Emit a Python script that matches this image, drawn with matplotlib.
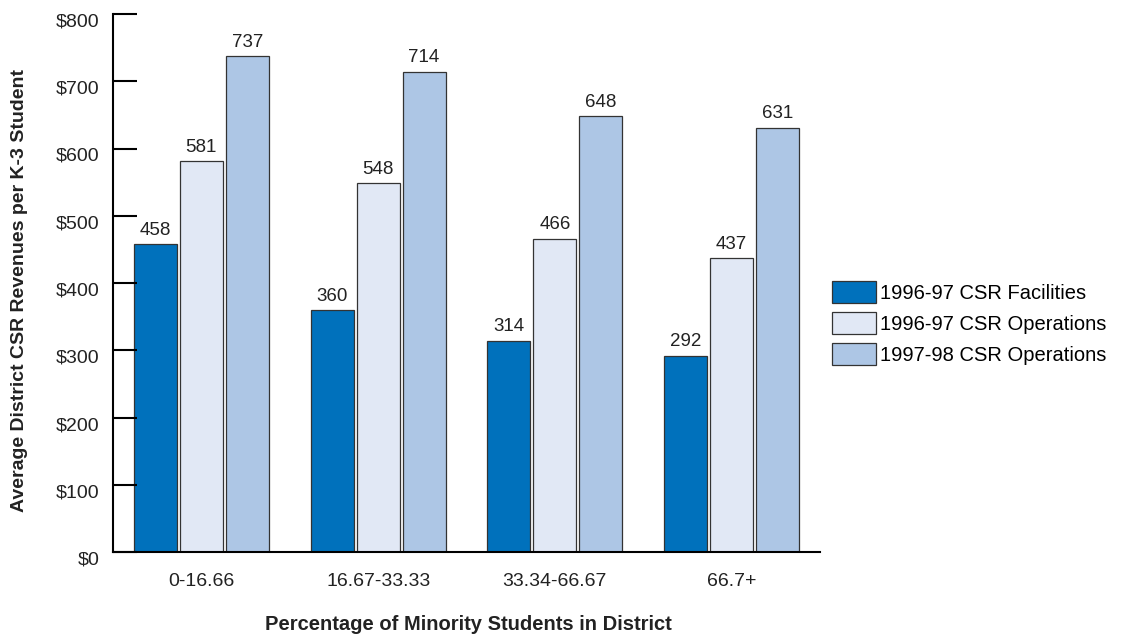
import numpy as np
import matplotlib
matplotlib.use('Agg')
import matplotlib.pyplot as plt
import matplotlib.transforms as mtransforms

plt.rcParams['font.family'] = ['Liberation Sans', 'DejaVu Sans']

groups = ['0-16.66', '16.67-33.33', '33.34-66.67', '66.7+']
series = ['1996-97 CSR Facilities', '1996-97 CSR Operations', '1997-98 CSR Operations']
facilities_9697 = [458, 360, 314, 292]
operations_9697 = [581, 548, 466, 437]
operations_9798 = [737, 714, 648, 631]
colors = ['#0071BC', '#E1E8F5', '#ADC6E5']
txt = '#222222'

fig = plt.figure(figsize=(11.26, 6.36), dpi=100)
ax = fig.add_axes([113/1126, 1 - 552/636, (820-113)/1126, (552-14)/636])

x = np.arange(len(groups))
w = 0.243
step = 0.26
for k, (vals, c, name) in enumerate(zip([facilities_9697, operations_9697, operations_9798], colors, series)):
    pos = x + (k - 1) * step
    ax.bar(pos, vals, width=w, color=c, edgecolor='#333333', linewidth=0.9, label=name)
    for p, v in zip(pos, vals):
        ax.text(p, v + 8, str(v), ha='center', va='bottom', fontsize=13.5, color=txt)

ax.set_xlim(-0.5, 3.5)
ax.set_ylim(0, 800)
ax.set_yticks(range(0, 801, 100))
ax.set_yticklabels([f'${v}' for v in range(0, 801, 100)], fontsize=14, color=txt)
ax.set_xticks(x)
ax.set_xticklabels(groups, fontsize=14, color=txt)
ax.tick_params(axis='y', direction='in', length=17, width=1.5, pad=10)
ax.tick_params(axis='x', length=0, pad=15)
ax.spines['top'].set_visible(False)
ax.spines['right'].set_visible(False)
ax.spines['left'].set_linewidth(1.5)
ax.spines['bottom'].set_linewidth(1.5)

# dollar labels sit a little below their tick marks
shift = mtransforms.ScaledTranslation(0, -6/100, fig.dpi_scale_trans)
for lab in ax.get_yticklabels():
    lab.set_transform(lab.get_transform() + shift)

fig.text(20/1126, 1 - 290/636, 'Average District CSR Revenues per K-3 Student', fontsize=14,
         fontweight='bold', rotation=90, ha='center', va='center', color=txt)
fig.text(468/1126, 1 - 624/636, 'Percentage of Minority Students in District', fontsize=14.5,
         fontweight='bold', ha='center', va='center', color=txt)

ax.legend(loc='center left', bbox_to_anchor=(1.017, 0.426), frameon=False, fontsize=14.5,
          handlelength=2.2, handleheight=1.3, handletextpad=0.2, labelspacing=0.45,
          borderaxespad=0.0, borderpad=0.0)

fig.savefig('out.png', dpi=100)
